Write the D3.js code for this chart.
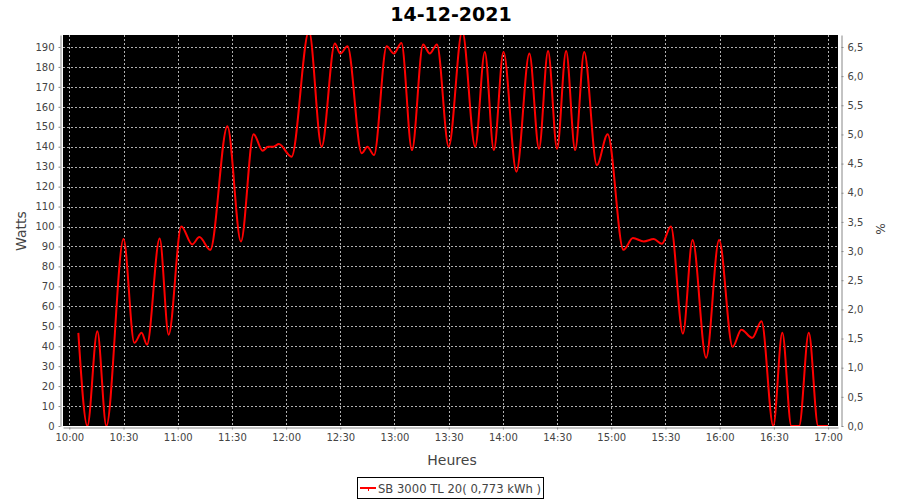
<!DOCTYPE html>
<html>
<head>
<meta charset="utf-8">
<script src="https://d3js.org/d3.v7.min.js"></script>
<style>
  body { margin: 0; background: #fff; }
  text { font-family: "DejaVu Sans", sans-serif; }
</style>
</head>
<body>
<svg id="chart" width="900" height="500"></svg>
<script>
// Chart data (time of day, watts)
var times = ["10:05:00","10:10:00","10:15:30","10:20:30","10:30:00","10:36:00","10:40:00","10:43:00",
  "10:50:00","10:55:00","11:02:00","11:08:00","11:12:00","11:18:00","11:27:30","11:35:00",
  "11:42:00","11:47:00","11:50:00","11:53:00","11:56:00","12:03:00","12:12:40","12:19:40",
  "12:27:00","12:30:00","12:34:00","12:41:50","12:45:00","12:48:40","12:55:40","12:59:40",
  "13:03:50","13:09:40","13:15:50","13:19:30","13:23:30","13:30:00","13:37:30","13:44:40",
  "13:50:00","13:55:00","14:00:20","14:07:30","14:14:40","14:20:00","14:25:00","14:30:00",
  "14:35:00","14:40:00","14:45:00","14:52:00","14:58:00","15:06:45","15:12:00","15:18:00",
  "15:23:30","15:28:00","15:33:00","15:39:40","15:45:00","15:52:30","15:59:40","16:07:10",
  "16:12:00","16:18:00","16:23:10","16:29:40","16:34:40","16:39:40","16:44:00","16:49:20",
  "16:54:30","17:00:00"];
var watts = [46.7, 0, 47.5, 0, 93.7, 41.7, 46.7, 40.8,
  94, 45.8, 100, 91, 94.7, 88.3, 150.3, 92.5,
  146.3, 138, 140, 140, 141.3, 135, 198, 140,
  191.7, 186.7, 190.3, 136.7, 140, 135.8, 190.3, 186.7,
  192, 138.3, 191.3, 186.7, 191.3, 140, 198, 140,
  187.5, 138.3, 187.5, 127.5, 186.7, 139, 188, 139,
  188, 138.3, 187.5, 130.8, 146.3, 88.3, 94.2, 92.5,
  93.7, 91.3, 100, 46.3, 93.3, 34.2, 93.3, 39.7,
  48.3, 44.2, 52.5, 0, 46.7, 0, 0, 46.7,
  0, 0];

var title = "14-12-2021";
var seriesName = "SB 3000 TL 20( 0,773 kWh )";
var timeStart = "09:56:30", timeEnd = "17:05:30";
var wattTicks = d3.range(0, 191, 10);
var percentTicks = d3.range(0, 6.51, 0.5);
var wattMax = 196, percentMax = 6.705;

var parseTime = d3.timeParse("%H:%M:%S");
var svg = d3.select("#chart");

// plot area
var plotLeft = 63, plotRight = 838, plotTop = 35, plotBottom = 426;

var xScale = d3.scaleTime()
  .domain([parseTime(timeStart), parseTime(timeEnd)])
  .range([plotLeft, plotRight]);

var yScale = d3.scaleLinear()
  .domain([0, wattMax])
  .range([plotBottom, plotTop]);

var y2Scale = d3.scaleLinear()
  .domain([0, percentMax])
  .range([plotBottom, plotTop]);

var xTicks = d3.timeMinute.every(30).range(parseTime("10:00:00"), parseTime("17:00:01"));

svg.append("rect")
  .attr("x", plotLeft).attr("y", plotTop)
  .attr("width", plotRight - plotLeft).attr("height", plotBottom - plotTop)
  .attr("fill", "#000");

// dashed gridlines
svg.append("g").selectAll("line")
  .data(wattTicks.slice(1))
  .enter().append("line")
  .attr("x1", plotLeft).attr("x2", plotRight)
  .attr("y1", function (d) { return Math.round(yScale(d)) + 0.5; })
  .attr("y2", function (d) { return Math.round(yScale(d)) + 0.5; })
  .attr("stroke", "#b0b0b0").attr("stroke-dasharray", "2,2");

svg.append("g").selectAll("line")
  .data(xTicks)
  .enter().append("line")
  .attr("y1", plotTop).attr("y2", plotBottom)
  .attr("x1", function (d) { return Math.round(xScale(d)) + 0.5; })
  .attr("x2", function (d) { return Math.round(xScale(d)) + 0.5; })
  .attr("stroke", "#b0b0b0").attr("stroke-dasharray", "2,2");

// the red line, clipped to the plot
svg.append("clipPath").attr("id", "plotClip")
  .append("rect")
  .attr("x", plotLeft).attr("y", plotTop)
  .attr("width", plotRight - plotLeft).attr("height", plotBottom - plotTop);

var points = times.map(function (t, i) { return [parseTime(t), watts[i]]; });

var line = d3.line()
  .x(function (d) { return xScale(d[0]); })
  .y(function (d) { return yScale(d[1]); })
  .curve(d3.curveMonotoneX);

svg.append("path")
  .datum(points)
  .attr("clip-path", "url(#plotClip)")
  .attr("d", line)
  .attr("fill", "none")
  .attr("stroke", "#ff0000")
  .attr("stroke-width", 2)
  .attr("stroke-linejoin", "round");

// axes
function styleAxis(g) {
  g.selectAll(".domain").attr("stroke", "#888");
  g.selectAll(".tick line").attr("stroke", "#888");
  g.selectAll(".tick text").attr("fill", "#444").style("font-size", "10px");
}

var xAxis = d3.axisBottom(xScale)
  .tickValues(xTicks)
  .tickFormat(d3.timeFormat("%H:%M"))
  .tickSizeInner(2).tickSizeOuter(0).tickPadding(4);

svg.append("g")
  .attr("transform", "translate(0," + (plotBottom + 1.5) + ")")
  .call(xAxis)
  .call(styleAxis);

var yAxis = d3.axisLeft(yScale)
  .tickValues(wattTicks)
  .tickSizeInner(2).tickSizeOuter(0).tickPadding(4);

svg.append("g")
  .attr("transform", "translate(" + (plotLeft - 2.5) + ",0)")
  .call(yAxis)
  .call(styleAxis);

var y2Axis = d3.axisRight(y2Scale)
  .tickValues(percentTicks)
  .tickFormat(function (d) { return d3.format(".1f")(d).replace(".", ","); })
  .tickSizeInner(2).tickSizeOuter(0).tickPadding(4);

svg.append("g")
  .attr("transform", "translate(" + (plotRight + 3.5) + ",0)")
  .call(y2Axis)
  .call(styleAxis);

// titles
svg.append("text")
  .attr("x", 451).attr("y", 21)
  .attr("text-anchor", "middle")
  .style("font-size", "19px").style("font-weight", "bold")
  .attr("fill", "#000")
  .text(title);

svg.append("text")
  .attr("x", 452).attr("y", 465)
  .attr("text-anchor", "middle")
  .style("font-size", "14px")
  .attr("fill", "#444")
  .text("Heures");

svg.append("text")
  .attr("transform", "translate(26,231) rotate(-90)")
  .attr("text-anchor", "middle")
  .style("font-size", "14px")
  .attr("fill", "#444")
  .text("Watts");

svg.append("text")
  .attr("transform", "translate(876,229) rotate(90)")
  .attr("text-anchor", "middle")
  .style("font-size", "12px")
  .attr("fill", "#444")
  .text("%");

// legend
var legend = svg.append("g").attr("transform", "translate(357,477)");
legend.append("rect")
  .attr("x", 0.5).attr("y", 0.5)
  .attr("width", 186).attr("height", 21)
  .attr("fill", "#fff").attr("stroke", "#000");
legend.append("line")
  .attr("x1", 3).attr("x2", 19).attr("y1", 11).attr("y2", 11)
  .attr("stroke", "#ff0000").attr("stroke-width", 2);
legend.append("line")
  .attr("x1", 11.5).attr("x2", 11.5).attr("y1", 10).attr("y2", 14)
  .attr("stroke", "#ff0000").attr("stroke-width", 1);
legend.append("text")
  .attr("x", 21).attr("y", 15.5)
  .style("font-size", "11.6px")
  .attr("fill", "#444")
  .text(seriesName);
</script>
</body>
</html>
